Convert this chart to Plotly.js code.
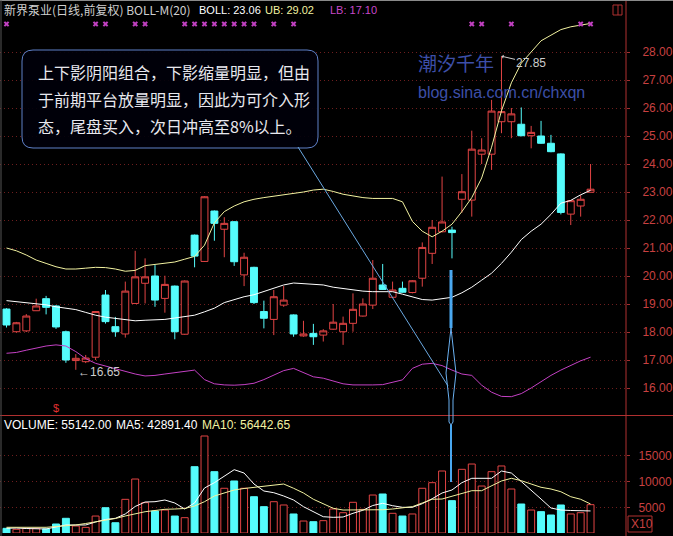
<!DOCTYPE html>
<html><head><meta charset="utf-8">
<script src="https://cdn.plot.ly/plotly-3.0.1.min.js"></script>
<style>html,body{margin:0;padding:0;background:#000;}#chart{width:673px;height:536px;}</style>
</head><body><div id="chart"></div>
<script>
// ---- data ----
const openP  = [18.82,18.01,18.04,18.76,19.19,18.93,18.01,16.98,16.94,17.10,19.32,18.19,17.93,19.02,19.74,20.00,19.20,19.64,17.92,21.46,20.52,22.32,21.67,21.94,20.04,20.31,18.73,18.45,18.96,18.61,17.86,17.95,17.89,18.10,18.01,18.31,18.57,18.96,19.68,19.24,19.56,19.41,19.92,20.81,21.58,21.64,22.74,22.71,24.35,24.35,25.51,25.51,25.42,25.01,25.00,24.74,24.36,22.21,22.50,22.99];
const highP  = [18.85,18.36,18.64,19.19,19.29,18.96,18.05,17.21,17.18,18.75,19.50,18.54,19.80,20.90,20.63,20.39,20.01,19.66,19.84,21.48,22.85,22.34,22.10,21.96,20.83,20.33,19.12,19.50,19.64,18.63,18.40,18.29,18.10,19.00,18.55,19.38,19.20,20.57,20.43,19.80,19.80,19.85,21.20,22.00,23.55,21.76,23.64,25.19,24.92,26.29,27.85,26.00,26.02,25.36,25.54,25.04,24.38,22.71,22.89,24.00];
const lowP   = [18.16,17.98,18.00,18.76,18.63,18.11,16.90,16.65,16.89,17.00,18.30,17.83,17.80,19.02,19.02,18.90,18.69,17.74,17.90,20.31,20.50,21.26,20.67,20.36,19.64,19.00,18.13,17.89,18.90,17.83,17.83,17.54,17.66,18.08,17.54,18.01,18.55,18.82,19.50,19.22,19.40,19.38,19.62,20.43,21.56,20.63,22.26,22.12,24.00,23.79,25.10,24.92,24.99,24.56,24.72,24.42,22.20,21.82,22.12,22.99];
const closeP = [18.25,18.33,18.57,18.93,18.88,18.18,17.00,17.06,17.07,18.73,18.37,18.01,19.46,19.97,19.97,19.14,19.70,18.01,19.82,20.71,22.83,21.88,21.88,20.51,20.67,19.05,18.49,19.26,19.14,17.93,17.93,17.83,18.04,18.35,18.31,18.81,19.00,19.92,19.52,19.50,19.42,19.83,21.02,21.74,21.93,21.55,23.01,24.53,24.50,25.89,25.87,25.79,25.01,25.13,24.74,24.44,22.27,22.69,22.74,23.10];
const bollUB  = [21.00,20.90,20.75,20.57,20.45,20.33,20.25,20.25,20.28,20.31,20.30,20.25,20.17,20.20,20.37,20.42,20.45,20.50,20.60,20.70,21.10,21.90,22.30,22.50,22.65,22.74,22.80,22.85,22.89,22.95,23.00,23.07,23.10,23.02,22.92,22.86,22.80,22.77,22.78,22.77,22.65,21.95,21.60,21.40,21.60,21.85,22.30,22.80,23.50,24.60,25.90,26.90,27.60,28.00,28.40,28.60,28.80,28.90,28.97,29.02];
const bollMid = [19.12,19.08,19.05,19.02,18.97,18.90,18.85,18.80,18.70,18.60,18.53,18.49,18.44,18.40,18.42,18.43,18.45,18.50,18.55,18.60,18.72,18.85,19.05,19.16,19.26,19.33,19.45,19.56,19.68,19.75,19.73,19.70,19.68,19.60,19.55,19.50,19.46,19.44,19.45,19.44,19.35,19.25,19.16,19.14,19.18,19.24,19.40,19.60,19.85,20.10,20.45,20.85,21.30,21.60,21.85,22.20,22.60,22.70,22.90,23.06];
const bollLB  = [17.24,17.27,17.35,17.42,17.50,17.54,17.50,17.30,17.05,16.88,16.78,16.70,16.60,16.50,16.43,16.45,16.50,16.55,16.60,16.64,16.30,16.15,16.11,16.10,16.12,16.17,16.30,16.45,16.62,16.70,16.55,16.40,16.35,16.25,16.15,16.11,16.10,16.11,16.12,16.20,16.29,16.70,16.85,16.88,16.80,16.64,16.50,16.45,16.10,15.85,15.70,15.69,15.80,16.00,16.23,16.45,16.64,16.80,16.97,17.10];
const volume  = [910,720,900,900,800,1750,2860,1360,1100,3300,4920,2000,6550,10500,5900,4280,4470,3300,2980,12900,18870,11930,8700,10120,8700,7060,5120,6090,5450,3700,2330,2200,2400,4670,3950,5970,4600,7390,7590,3830,3300,3700,8700,9790,12060,6290,12390,13420,9140,11930,13040,8560,5640,4470,4150,3500,5450,3700,3950,5514];
const volMA5  = [914,970,875,780,780,1170,1560,1560,1560,2140,2630,2860,3700,5160,6030,6090,6420,5840,4670,5840,8750,9790,11090,12320,11670,9530,8170,7840,7200,6420,5120,4140,3170,3050,3110,3830,4420,5350,5780,5310,5000,5000,5700,6670,7780,8370,9790,10640,10640,10640,12060,11670,10020,8370,6610,4860,4470,4380,4380,4289];
const volMA10 = [1110,1110,1110,1110,1110,1260,1360,1560,1850,2140,2530,2820,3310,3700,4140,4380,4610,4670,4770,5250,6090,7200,7780,8370,8660,8890,9140,9340,9530,8700,7780,6560,5640,4810,4470,4470,4470,4470,4530,4670,4860,5120,5840,6560,6610,7200,7720,8230,8230,9140,10120,10640,10180,9530,8890,8560,8030,7060,6560,5644];
const signalIdx = [0,9,10,13,14,18,19,20,21,22,23,24,25,27,29,47,48,51,58,59];
const priceTicks = [16,17,18,19,20,21,22,23,24,25,26,27,28];
const volTicks = [5000,10000,15000];
const noteLines = ["上下影阴阳组合，下影缩量明显，但由","于前期平台放量明显，因此为可介入形","态，尾盘买入，次日冲高至8%以上。"];
const headerTitle = "新界泵业(日线,前复权) BOLL-M(20)";
const bollText = "BOLL: 23.06", ubText = "UB: 29.02", lbText = "LB: 17.10";
const volText = "VOLUME: 55142.00", ma5Text = "MA5: 42891.40", ma10Text = "MA10: 56442.65";

// ---- styles ----
const RED = '#e24444', CYAN = '#55fcfc', UBC = '#f2f2a0', MIDC = '#ffffff', LBC = '#c441c4';
const LAT = 'Liberation Sans, Arial, sans-serif';
const CJK = 'Noto Sans CJK SC, sans-serif';
const W = 673, H = 536, ML = 0, MR = 47, MT = 3, MB = 3;
const PW = W - ML - MR, PH = H - MT - MB;
const px = X => (X - ML) / PW;
const py = Y => (H - MB - Y) / PH;
const idx = openP.map((_, i) => i);
const up = idx.map(i => closeP[i] >= openP[i]);
const sigTop = 29.0;

const traces = [
  {type:'candlestick', x:idx, open:openP, high:highP, low:lowP, close:closeP, xaxis:'x', yaxis:'y',
   increasing:{line:{color:RED,width:1}, fillcolor:'#000000'},
   decreasing:{line:{color:CYAN,width:1}, fillcolor:CYAN}, whiskerwidth:0, hoverinfo:'skip', showlegend:false},
  {type:'scatter', mode:'lines', x:idx, y:bollUB, line:{color:UBC,width:1}, xaxis:'x', yaxis:'y', hoverinfo:'skip'},
  {type:'scatter', mode:'lines', x:idx, y:bollMid, line:{color:MIDC,width:1}, xaxis:'x', yaxis:'y', hoverinfo:'skip'},
  {type:'scatter', mode:'lines', x:idx, y:bollLB, line:{color:LBC,width:1}, xaxis:'x', yaxis:'y', hoverinfo:'skip'},
  {type:'scatter', mode:'markers', x:signalIdx, y:signalIdx.map(()=>sigTop), marker:{symbol:'x', size:5, color:'#c040c0'}, xaxis:'x', yaxis:'y', hoverinfo:'skip'},
  {type:'bar', x:idx, y:volume, width:0.7, xaxis:'x2', yaxis:'y2',
   marker:{color:idx.map(i=>up[i]?'#000000':CYAN), line:{color:idx.map(i=>up[i]?RED:CYAN), width:1}}, hoverinfo:'skip'},
  {type:'scatter', mode:'lines', x:idx, y:volMA5, line:{color:'#ffffff',width:1}, xaxis:'x2', yaxis:'y2', hoverinfo:'skip'},
  {type:'scatter', mode:'lines', x:idx, y:volMA10, line:{color:UBC,width:1}, xaxis:'x2', yaxis:'y2', hoverinfo:'skip'}
];

const yMainTop = 28 + (52 - MT) / 28, yMainBot = 28 - (415 - 52) / 28;
const axisFont = {family:LAT, size:12, color:'#c84040'};
const GRID = '#6e1e1e';
const layout = {
  width:W, height:H, margin:{l:ML, r:MR, t:MT, b:MB}, paper_bgcolor:'#000', plot_bgcolor:'#000',
  showlegend:false, boxgap:0.3, boxgroupgap:0,
  xaxis:{range:[-0.657, 62.58], visible:false, rangeslider:{visible:false}, fixedrange:true},
  xaxis2:{range:[-0.657, 62.58], visible:false, matches:'x', anchor:'y2'},
  yaxis:{domain:[py(415), 1], range:[yMainBot, yMainTop], side:'right', tickvals:priceTicks,
         ticktext:priceTicks.map(v=>v.toFixed(2)), tickfont:axisFont, ticks:'outside', ticklen:3, tickcolor:'#a03030',
         ticklabelstandoff:10, showgrid:true, gridcolor:GRID, griddash:'1px,3px', gridwidth:1, zeroline:false, showline:false},
  yaxis2:{domain:[0, py(416)], range:[0, (533-416)*5000/25.7], side:'right', anchor:'x2', tickvals:volTicks,
         ticktext:volTicks.map(String), tickfont:axisFont, ticks:'outside', ticklen:3, tickcolor:'#a03030',
         ticklabelstandoff:6, showgrid:true, gridcolor:GRID, griddash:'1px,3px', gridwidth:1, zeroline:false, showline:false},
  shapes:[], annotations:[]
};
const S = layout.shapes, A = layout.annotations;
const pline = (x0,y0,x1,y1,color,width) => S.push({type:'line', xref:'paper', yref:'paper', x0:px(x0), y0:py(y0), x1:px(x1), y1:py(y1), line:{color, width}});
// frame
pline(626, 0, 626, 536, '#b03030', 1);
pline(0, 415.5, 673, 415.5, '#b03030', 1);
pline(0, 0.5, 673, 0.5, '#8a8a8a', 1);
pline(1, 0, 1, 536, '#555555', 1);
S.push({type:'rect', xref:'paper', yref:'paper', x0:px(613), x1:px(622), y0:py(15), y1:py(5), line:{color:'#b03030', width:1}});
pline(618, 5, 618, 15, '#b03030', 1);
S.push({type:'rect', xref:'paper', yref:'paper', x0:px(628), x1:px(652), y0:py(532), y1:py(516), line:{color:'#b03030', width:1}});
// note box (rounded)
const bx0=22, bx1=318, by0=50, by1=148, r=11;
const P = (x,y) => px(x)+','+py(y);
S.push({type:'path', xref:'paper', yref:'paper', line:{color:'#5f80c8', width:1}, fillcolor:'rgba(0,0,10,0.92)',
  path:'M'+P(bx0+r,by0)+' L'+P(bx1-r,by0)+' Q'+P(bx1,by0)+' '+P(bx1,by0+r)+' L'+P(bx1,by1-r)+' Q'+P(bx1,by1)+' '+P(bx1-r,by1)+
       ' L'+P(bx0+r,by1)+' Q'+P(bx0,by1)+' '+P(bx0,by1-r)+' L'+P(bx0,by0+r)+' Q'+P(bx0,by0)+' '+P(bx0+r,by0)+' Z'});
// callout pointer
pline(298, 147, 448, 386, '#6aa8e0', 1);
pline(451, 270, 451, 328, '#4aa8f0', 3);
S.push({type:'path', xref:'paper', yref:'paper', line:{color:'#6ab0f0', width:1},
  path:'M'+P(451,328)+' L'+P(446,373)+' L'+P(449,400)+' L'+P(449,422)+' L'+P(451,425)+' L'+P(453,422)+' L'+P(453,400)+' L'+P(456,373)+' Z'});
pline(451, 425, 451, 482, '#4aa8f0', 2);

const ann = (o) => A.push(Object.assign({xref:'paper', yref:'paper', showarrow:false, xanchor:'left', yanchor:'middle'}, o));
ann({x:px(2), y:py(10), text:headerTitle, font:{family:CJK, size:12, color:'#cfcfcf'}});
ann({x:px(197), y:py(10), text:bollText, font:{family:LAT, size:11, color:'#ffffff'}});
ann({x:px(263), y:py(10), text:ubText, font:{family:LAT, size:11, color:UBC}});
ann({x:px(328), y:py(10), text:lbText, font:{family:LAT, size:11, color:'#c848c8'}});
ann({x:px(2), y:py(425), text:volText, font:{family:LAT, size:12, color:'#ffffff'}});
ann({x:px(114), y:py(425), text:ma5Text, font:{family:LAT, size:12, color:'#ffffff'}});
ann({x:px(200), y:py(425), text:ma10Text, font:{family:LAT, size:12, color:UBC}});
ann({x:px(629), y:py(524), text:'X10', font:{family:LAT, size:12, color:'#c84040'}});
noteLines.forEach((t,k) => ann({x:px(36), y:py(72 + k*27), text:t, font:{family:CJK, size:16, color:'#e8e8ee'}}));
ann({x:px(416), y:py(63), text:'潮汐千年', font:{family:CJK, size:19, color:'#3d4fa8'}});
ann({x:px(416), y:py(93), text:'blog.sina.com.cn/chxqn', font:{family:LAT, size:16, color:'#3d4fa8'}});
ann({x:px(56), y:py(408), text:'$', xanchor:'center', font:{family:LAT, size:11, color:'#e03030'}});
A.push({xref:'x', yref:'y', x:7, y:16.65, text:'←16.65', showarrow:false, xanchor:'left', yanchor:'middle', yshift:-2,
        font:{family:LAT, size:12, color:'#cccccc'}});
A.push({xref:'x', yref:'y', x:50, y:27.85, text:'27.85', showarrow:true, ax:30, ay:7, arrowhead:1, arrowsize:0.7, arrowwidth:1,
        arrowcolor:'#cccccc', standoff:0, font:{family:LAT, size:12, color:'#cccccc'}});

Plotly.newPlot('chart', traces, layout, {staticPlot:true, displayModeBar:false});
</script></body></html>
